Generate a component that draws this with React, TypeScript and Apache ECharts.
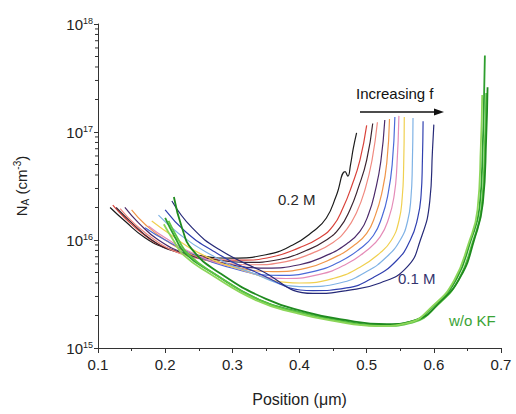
import React, { useEffect, useRef } from "react";
import * as echarts from "echarts";

// KF curves (0.2 M -> 0.1 M, increasing f): [position (um), N_A (cm^-3)]
const kf0 = [[0.118,2.0e16],[0.14,1.5e16],[0.17,1.05e16],[0.2,8.5e15],[0.25,7.2e15],[0.3,6.8e15],[0.35,7.3e15],[0.39,9e15],[0.42,1.2e16],[0.44,1.6e16],[0.455,2.6e16],[0.468,4.3e16],[0.472,3.9e16],[0.476,5.0e16],[0.48,7e16],[0.485,9.8e16]];
const kf1 = [[0.122,2.1e16],[0.14,1.6e16],[0.17,1.1e16],[0.2,8.5e15],[0.25,7e15],[0.31,6.5e15],[0.36,7e15],[0.4,8.5e15],[0.43,1.05e16],[0.45,1.35e16],[0.465,2e16],[0.478,3.2e16],[0.49,5.5e16],[0.5,1.15e17]];
const kf2 = [[0.127,2.0e16],[0.15,1.45e16],[0.18,1.0e16],[0.21,8e15],[0.26,6.8e15],[0.32,6.2e15],[0.37,6.6e15],[0.41,8e15],[0.44,1.0e16],[0.46,1.3e16],[0.475,1.9e16],[0.488,3.1e16],[0.5,5.5e16],[0.509,1.2e17]];
const kf3 = [[0.133,1.95e16],[0.155,1.4e16],[0.19,9.5e15],[0.22,7.6e15],[0.27,6.4e15],[0.33,5.9e15],[0.38,6.3e15],[0.42,7.6e15],[0.45,9.5e15],[0.47,1.25e16],[0.485,1.8e16],[0.498,3e16],[0.508,5.5e16],[0.516,1.23e17]];
const kf4 = [[0.14,2.0e16],[0.16,1.45e16],[0.19,1e16],[0.23,7.5e15],[0.28,6.2e15],[0.35,5.5e15],[0.4,5.9e15],[0.44,7.2e15],[0.47,9.2e15],[0.49,1.2e16],[0.503,1.75e16],[0.513,2.9e16],[0.521,5.3e16],[0.527,1.29e17]];
const kf5 = [[0.15,1.9e16],[0.17,1.4e16],[0.2,1e16],[0.24,7.3e15],[0.29,5.9e15],[0.36,5.1e15],[0.41,5.5e15],[0.45,6.8e15],[0.48,8.8e15],[0.5,1.15e16],[0.513,1.7e16],[0.523,2.8e16],[0.53,5.2e16],[0.534,1.32e17]];
const kf6 = [[0.17,1.3e16],[0.2,1.0e16],[0.24,7.5e15],[0.29,5.7e15],[0.37,4.7e15],[0.42,5.1e15],[0.46,6.3e15],[0.49,8.3e15],[0.51,1.1e16],[0.523,1.65e16],[0.532,2.7e16],[0.538,5e16],[0.542,1.38e17]];
const kf7 = [[0.175,1.35e16],[0.2,1.05e16],[0.24,7.6e15],[0.3,5.6e15],[0.38,4.4e15],[0.43,4.8e15],[0.47,6e15],[0.5,8e15],[0.52,1.07e16],[0.533,1.6e16],[0.541,2.6e16],[0.545,4.8e16],[0.548,1.41e17]];
const kf8 = [[0.18,1.5e16],[0.21,1.1e16],[0.25,7.6e15],[0.31,5.4e15],[0.4,4.0e15],[0.45,4.4e15],[0.49,5.6e15],[0.52,7.6e15],[0.537,1.0e16],[0.548,1.5e16],[0.553,2.5e16],[0.555,4.6e16],[0.556,1.38e17]];
const kf9 = [[0.19,1.7e16],[0.22,1.15e16],[0.26,7.8e15],[0.32,5.2e15],[0.41,3.7e15],[0.46,4.0e15],[0.5,5.1e15],[0.53,7e15],[0.55,1.0e16],[0.561,1.5e16],[0.566,2.5e16],[0.568,5e16],[0.569,1.35e17]];
const kf10 = [[0.2,1.9e16],[0.23,1.2e16],[0.27,8e15],[0.33,5.2e15],[0.42,3.4e15],[0.47,3.6e15],[0.51,4.5e15],[0.545,6.5e15],[0.565,1.0e16],[0.576,1.6e16],[0.581,2.6e16],[0.583,5.5e16],[0.584,1.26e17]];
const kf11 = [[0.21,2.3e16],[0.24,1.3e16],[0.28,8.2e15],[0.34,5.3e15],[0.42,3.2e15],[0.47,3.4e15],[0.52,4.0e15],[0.56,5.6e15],[0.58,1.0e16],[0.594,2.3e16],[0.598,6.8e16],[0.6,1.17e17]];
const kfCurves = [kf0, kf1, kf2, kf3, kf4, kf5, kf6, kf7, kf8, kf9, kf10, kf11];
const kfColors = ["#1c1c1c", "#d9423a", "#3b2430", "#f08a80", "#4b2a6a", "#f0964a", "#4a6ad8", "#e58cb8", "#f0d050", "#7fb2e5", "#3040b0", "#262a78"];

// w/o KF curves
const g0 = [[0.2,1.6e16],[0.215,1.05e16],[0.23,7.5e15],[0.27,5.0e15],[0.34,2.8e15],[0.4,2.15e15],[0.45,1.85e15],[0.52,1.63e15],[0.564,1.75e15],[0.604,2.6e15],[0.634,4.4e15],[0.654,9.5e15],[0.668,2e16],[0.673,8e16],[0.675,2.5e17],[0.676,5.1e17]];
const g1 = [[0.205,1.5e16],[0.22,1.0e16],[0.235,7.3e15],[0.275,4.8e15],[0.345,2.7e15],[0.405,2.1e15],[0.455,1.8e15],[0.525,1.6e15],[0.568,1.72e15],[0.607,2.55e15],[0.637,4.3e15],[0.657,9.2e15],[0.671,2e16],[0.676,8e16],[0.678,2.3e17]];
const g2 = [[0.213,2.5e16],[0.225,1.3e16],[0.24,8.2e15],[0.28,5.0e15],[0.35,2.85e15],[0.41,2.15e15],[0.46,1.85e15],[0.53,1.66e15],[0.572,1.8e15],[0.61,2.7e15],[0.64,4.6e15],[0.66,1.0e16],[0.673,2.2e16],[0.678,9e16],[0.68,2.6e17]];
const g3 = [[0.198,1.4e16],[0.212,1.0e16],[0.228,7.2e15],[0.266,4.9e15],[0.336,2.75e15],[0.396,2.1e15],[0.446,1.8e15],[0.516,1.6e15],[0.56,1.7e15],[0.6,2.5e15],[0.63,4.2e15],[0.651,9e15],[0.665,1.9e16],[0.67,7.5e16],[0.672,2.2e17]];
const gCurves = [g0, g1, g2, g3];
const gColors = ["#2e9e2e", "#5cc444", "#1f8a1f", "#8cd65a"];

const xTicks = [0.1, 0.2, 0.3, 0.4, 0.5, 0.6, 0.7];
const yMinorTicks = [2e15,3e15,4e15,5e15,6e15,7e15,8e15,9e15,2e16,3e16,4e16,5e16,6e16,7e16,8e16,9e16,2e17,3e17,4e17,5e17,6e17,7e17,8e17,9e17];

const FONT = "Liberation Sans, Arial, sans-serif";

export default function App() {
  const ref = useRef<HTMLDivElement>(null);
  useEffect(() => {
    if (!ref.current) return;
    const chart = echarts.init(ref.current, null, { renderer: "svg" });
    const series: any[] = [];
    kfCurves.forEach((d, i) => {
      series.push({
        type: "line", data: d, showSymbol: false, smooth: 0.5,
        lineStyle: { color: kfColors[i], width: 1.2 }, z: 2,
      });
    });
    gCurves.forEach((d, i) => {
      series.push({
        type: "line", data: d, showSymbol: false, smooth: 0.5,
        lineStyle: { color: gColors[i], width: 1.8 }, z: 3,
      });
    });
    series.push({
      type: "custom",
      data: yMinorTicks.map((v) => [xTicks[0], v]),
      clip: false,
      silent: true,
      renderItem: (params: any, api: any) => {
        const p = api.coord([api.value(0), api.value(1)]);
        return {
          type: "line",
          shape: { x1: p[0] - 3, y1: p[1], x2: p[0], y2: p[1] },
          style: { stroke: "#333", lineWidth: 1 },
        };
      },
      z: 5,
    });
    chart.setOption({
      animation: false,
      grid: { left: 98, right: 15, top: 24, bottom: 66 },
      xAxis: {
        type: "value", min: 0.1, max: 0.7, interval: 0.1,
        name: "Position (\u03bcm)", nameLocation: "middle", nameGap: 43,
        nameTextStyle: { fontSize: 16, color: "#222", fontFamily: FONT },
        axisLine: { lineStyle: { color: "#333", width: 1 } },
        axisTick: { length: 5, lineStyle: { color: "#333" } },
        minorTick: { show: true, splitNumber: 2, length: 3, lineStyle: { color: "#333" } },
        splitLine: { show: false },
        axisLabel: { fontSize: 15, color: "#222", fontFamily: FONT, margin: 9, formatter: (v: number) => v.toFixed(1) },
      },
      yAxis: {
        type: "log", logBase: 10, min: 1e15, max: 1e18, splitNumber: 3,
        name: "{n|N}{sub|A}{n| (cm}{sup|-3}{n|)}", nameLocation: "middle", nameGap: 68, nameRotate: 90,
        nameTextStyle: {
          color: "#222", fontFamily: FONT,
          rich: {
            n: { fontSize: 15, color: "#222", fontFamily: FONT },
            sub: { fontSize: 10, color: "#222", fontFamily: FONT, verticalAlign: "bottom", padding: [8, 0, 0, 0] },
            sup: { fontSize: 10, color: "#222", fontFamily: FONT, verticalAlign: "top", padding: [0, 0, 6, 0] },
          },
        },
        axisLine: { show: true, lineStyle: { color: "#333", width: 1 } },
        axisTick: { show: true, length: 4, lineStyle: { color: "#333" } },
        splitLine: { show: false },
        axisLabel: {
          margin: 5, color: "#222", fontFamily: FONT,
          formatter: (v: number) => "{b|10}{s|" + Math.round(Math.log10(v)) + "}",
          rich: {
            b: { fontSize: 15, color: "#222", fontFamily: FONT },
            s: { fontSize: 9, color: "#222", fontFamily: FONT, verticalAlign: "top", padding: [0, 0, 7, 0] },
          },
        },
      },
      graphic: [
        { type: "text", left: 356, top: 86, style: { text: "Increasing f", fontSize: 15, fill: "#111", fontFamily: FONT } },
        { type: "line", shape: { x1: 360, y1: 112, x2: 436, y2: 112 }, style: { stroke: "#111", lineWidth: 1.5 } },
        { type: "polygon", shape: { points: [[434, 108.5], [444, 112], [434, 115.5]] }, style: { fill: "#111" } },
        { type: "text", left: 278, top: 192, style: { text: "0.2 M", fontSize: 15, fill: "#2a2a2a", fontFamily: FONT } },
        { type: "text", left: 398, top: 271, style: { text: "0.1 M", fontSize: 15, fill: "#34346e", fontFamily: FONT } },
        { type: "text", left: 449, top: 313, style: { text: "w/o KF", fontSize: 15, fill: "#3aa335", fontFamily: FONT } },
      ],
      series,
    });
    return () => chart.dispose();
  }, []);
  return <div ref={ref} style={{ width: 516, height: 414, position: "absolute", left: 0, top: 0 }} />;
}
